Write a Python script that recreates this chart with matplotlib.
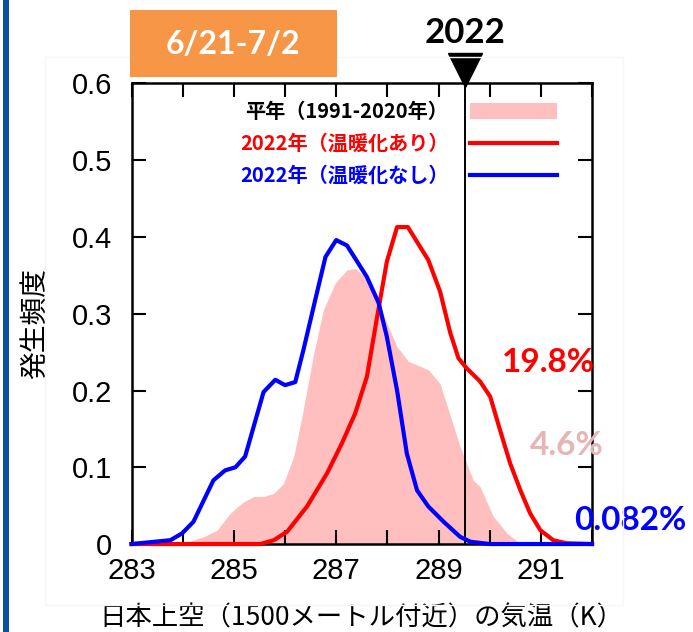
import matplotlib
matplotlib.use("Agg")
import matplotlib.pyplot as plt
from matplotlib.patches import Rectangle

# 平年 (1991-2020) の分布
pink_k = [283.0, 283.95, 284.41, 284.67, 284.93, 285.19, 285.39, 285.58, 285.78, 285.97,
          286.17, 286.33, 286.56, 286.75, 286.98, 287.21, 287.37, 287.6, 287.8, 287.99,
          288.19, 288.41, 288.8, 289.03, 289.42, 289.68, 289.81, 290.07, 290.34, 290.53,
          290.75, 292.0]
pink_v = [0, 0, 0.0095, 0.018, 0.04, 0.055, 0.062, 0.062, 0.066, 0.079,
          0.114, 0.166, 0.248, 0.305, 0.34, 0.357, 0.359, 0.346, 0.318, 0.288,
          0.257, 0.238, 0.227, 0.209, 0.127, 0.083, 0.075, 0.036, 0.014, 0.004,
          0, 0]

# 2022年 温暖化あり
red_k = [283.0, 285.52, 285.78, 286.04, 286.43, 286.82, 287.11, 287.37, 287.6, 287.8,
         287.99, 288.19, 288.4, 288.8, 289.03, 289.23, 289.39, 289.55, 289.81, 290.01,
         290.2, 290.4, 290.6, 290.79, 290.99, 291.24, 291.5, 292.0]
red_v = [0, 0, 0.005, 0.016, 0.049, 0.092, 0.131, 0.17, 0.218, 0.296,
         0.368, 0.413, 0.413, 0.37, 0.329, 0.275, 0.242, 0.229, 0.212, 0.192,
         0.149, 0.105, 0.07, 0.04, 0.018, 0.005, 0.001, 0]

# 2022年 温暖化なし
blue_k = [283.0, 283.76, 283.99, 284.21, 284.6, 284.83, 285.03, 285.22, 285.58, 285.81,
          286.0, 286.2, 286.36, 286.59, 286.79, 287.0, 287.21, 287.6, 287.83, 287.99,
          288.19, 288.38, 288.58, 288.8, 289.1, 289.42, 289.62, 290.0, 292.0]
blue_v = [0, 0.005, 0.014, 0.029, 0.083, 0.096, 0.10, 0.114, 0.198, 0.214,
          0.207, 0.211, 0.253, 0.318, 0.374, 0.396, 0.389, 0.348, 0.314, 0.27,
          0.2, 0.118, 0.07, 0.049, 0.029, 0.0095, 0.003, 0, 0]

obs_2022 = 289.52
labels = ['平年（1991-2020年）', '2022年（温暖化あり）', '2022年（温暖化なし）']
pct_labels = ['19.8%', '4.6%', '0.082%']
xticks = [283, 285, 287, 289, 291]
yticks = [0, 0.1, 0.2, 0.3, 0.4, 0.5, 0.6]

plt.rcParams['font.family'] = ['Liberation Sans', 'Noto Sans CJK JP', 'DejaVu Sans']
cjk = ['Noto Sans CJK JP', 'DejaVu Sans']
bold_font = ['Lato', 'DejaVu Sans']

fig = plt.figure(figsize=(6.93, 6.32), dpi=100)
ax = fig.add_axes([0.1898, 0.1392, 0.6645, 0.7287])

# faint panel + blue bar at the left edge
fig.patches.append(Rectangle((45 / 693, 1 - 605 / 632), 578 / 693, 548 / 632,
                             transform=fig.transFigure, fill=False,
                             edgecolor='#f7f7f7', lw=1, zorder=0))
fig.patches.append(Rectangle((3 / 693, 0), 6 / 693, 1, transform=fig.transFigure,
                             facecolor='#0b50a0', edgecolor='none'))

ax.fill_between(pink_k, pink_v, color='#ffbfbf', lw=0, label=labels[0], zorder=1)
ax.axvline(obs_2022, color='black', lw=1.4, zorder=2)
ax.plot(red_k, red_v, color='#ff0000', lw=3, label=labels[1], zorder=3, clip_on=False)
ax.plot(blue_k, blue_v, color='#0000ff', lw=3, label=labels[2], zorder=4, clip_on=False)

ax.set_xlim(283, 292)
ax.set_ylim(0, 0.6)
ax.set_xticks(xticks)
ax.set_xticks(range(283, 293), minor=True)
ax.set_yticks(yticks)
ax.set_yticklabels(['0', '0.1', '0.2', '0.3', '0.4', '0.5', '0.6'])
ax.tick_params(which='both', direction='in', top=True, right=True,
               length=10, width=1.5, labelsize=21)
ax.tick_params(axis='x', pad=9)
ax.tick_params(axis='y', pad=14)
for s in ax.spines.values():
    s.set_linewidth(1.8)

ax.set_xlabel('日本上空（1500メートル付近）の気温（K）', fontsize=19, family=cjk)
ax.xaxis.set_label_coords(0.5, -0.132)
ax.set_ylabel('発生頻度', fontsize=20, family=cjk)
ax.yaxis.set_label_coords(-0.175, 0.478)

leg = ax.legend(loc='upper right', bbox_to_anchor=(0.924, 0.962), frameon=False,
                markerfirst=False, prop={'family': cjk, 'size': 14.5, 'weight': 'bold'},
                handlelength=4.3, handleheight=0.85, handletextpad=1.1,
                labelspacing=0.55, borderpad=0, borderaxespad=0)
for t, c in zip(leg.get_texts(), ['black', '#ff0000', '#0000ff']):
    t.set_color(c)

# 2022 marker
ax.plot([obs_2022], [1.029], marker='v', markersize=24, color='black',
        transform=ax.get_xaxis_transform(), clip_on=False)
ax.text(obs_2022, 1.11, '2022', transform=ax.get_xaxis_transform(),
        ha='center', va='center', fontsize=25, fontweight='bold', family=bold_font)

# probabilities
ax.text(291.15, 0.236, pct_labels[0], color='#ff0000', ha='center', va='center',
        fontsize=24, fontweight='bold', family=bold_font, clip_on=False)
ax.text(291.5, 0.129, pct_labels[1], color='#e8b4b4', ha='center', va='center',
        fontsize=24, fontweight='bold', family=bold_font, clip_on=False)
ax.text(292.74, 0.031, pct_labels[2], color='#0000ff', ha='center', va='center',
        fontsize=24, fontweight='bold', family=bold_font, clip_on=False)

# period box
fig.patches.append(Rectangle((129.5 / 693, 1 - 76.7 / 632), 207.5 / 693, 66.7 / 632,
                             transform=fig.transFigure, facecolor='#f79646',
                             edgecolor='none'))
fig.text(233.3 / 693, 1 - 45 / 632, '6/21-7/2', color='white', ha='center', va='center',
         fontsize=23, fontweight='bold', family=bold_font)

fig.savefig('out.png', dpi=100)
